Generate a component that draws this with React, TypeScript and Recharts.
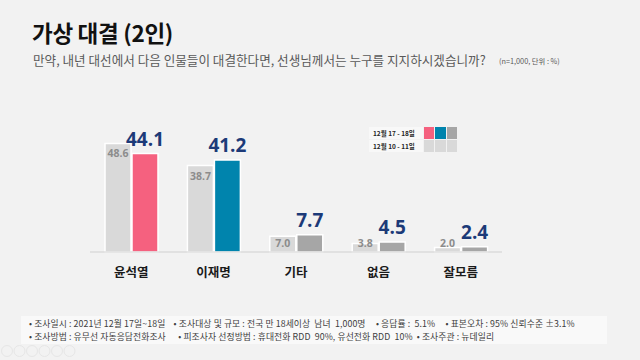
import React from 'react';
import { BarChart, Bar, XAxis, YAxis, Cell, LabelList } from 'recharts';

const categories = ['윤석열', '이재명', '기타', '없음', '잘모름'];
const prevValues = [48.6, 38.7, 7.0, 3.8, 2.0];
const currValues = [44.1, 41.2, 7.7, 4.5, 2.4];
const currColors = ['#f5617f', '#0084ad', '#a6a6a6', '#a6a6a6', '#a6a6a6'];
const prevColor = '#d9d9d9';
const legendLabels = ['12월 17 - 18일', '12월 10 - 11일'];
const footerLines = [
  '• 조사일시 : 2021년 12월 17일~18일    • 조사대상 및 규모 : 전국 만 18세이상  남녀  1,000명     • 응답률 :  5.1%     • 표본오차 : 95% 신뢰수준 ±3.1%',
  '• 조사방법 : 유무선 자동응답전화조사      • 피조사자 선정방법 : 휴대전화 RDD  90%, 유선전화 RDD  10%  • 조사주관 : 뉴데일리',
];

const data = categories.map((name, i) => ({ name, prev: prevValues[i], curr: currValues[i] }));

const FONT = '"Noto Sans CJK KR", "Noto Sans", sans-serif';

const CurrLabel = (props: any) => {
  const { x, y, width, value } = props;
  return (
    <text x={x + width / 2} y={y - 8} textAnchor="middle" fill="#1c3a78" fontSize={19} fontWeight={700} fontFamily='"Open Sans", "Noto Sans", sans-serif'>
      {Number(value).toFixed(1)}
    </text>
  );
};

const PrevLabel = (props: any) => {
  const { x, y, width, height, value } = props;
  const cy = Math.min(y + 10, y + height - 9);
  return (
    <text x={x + width / 2} y={cy} textAnchor="middle" dominantBaseline="central" fill="#8c8c8c" fontSize={10.5} fontWeight={700} fontFamily='"Open Sans", "Noto Sans", sans-serif'>
      {Number(value).toFixed(1)}
    </text>
  );
};

const Tick = (props: any) => {
  const { x, y, payload } = props;
  return (
    <text x={x} y={y + 11} textAnchor="middle" dominantBaseline="central" fill="#1a1a1a" fontSize={12.5} fontWeight={700} fontFamily={FONT}>
      {payload.value}
    </text>
  );
};

export default function App() {
  const legendSwatches = [currColors.slice(0, 2).concat(['#a6a6a6']), [prevColor, prevColor, prevColor]];
  return (
    <div style={{ position: 'fixed', left: 0, top: 0, width: 640, height: 360, background: '#f2f2f2', overflow: 'hidden', fontFamily: FONT }}>
      <div style={{ position: 'absolute', left: 32, top: 17, fontSize: 22.5, fontWeight: 700, color: '#111', lineHeight: '30px', letterSpacing: -0.3 }}>
        가상 대결 (2인)
      </div>
      <div style={{ position: 'absolute', left: 33, top: 52, fontSize: 12.6, color: '#595959', lineHeight: '16px', whiteSpace: 'nowrap' }}>
        만약, 내년 대선에서 다음 인물들이 대결한다면, 선생님께서는 누구를 지지하시겠습니까?
      </div>
      <div style={{ position: 'absolute', left: 499, top: 56, fontSize: 7.3, color: '#595959', lineHeight: '10px', whiteSpace: 'nowrap' }}>
        (n=1,000, 단위 : %)
      </div>

      <div style={{ position: 'absolute', left: 0, top: 0 }}>
        <BarChart width={640} height={360} data={data} margin={{ top: 118, right: 138, bottom: 78, left: 90 }} barSize={26} barGap={1}>
          <XAxis dataKey="name" height={30} axisLine={{ stroke: '#d0d0d0' }} tickLine={false} tick={<Tick />} interval={0} />
          <YAxis hide domain={[0, 60]} />
          <Bar dataKey="prev" fill={prevColor} stroke="#ffffff" strokeWidth={1.5} isAnimationActive={false}>
            <LabelList dataKey="prev" content={<PrevLabel />} />
          </Bar>
          <Bar dataKey="curr" stroke="#ffffff" strokeWidth={1.5} isAnimationActive={false}>
            {data.map((d, i) => (
              <Cell key={d.name} fill={currColors[i]} />
            ))}
            <LabelList dataKey="curr" content={<CurrLabel />} />
          </Bar>
        </BarChart>
      </div>

      <div style={{ position: 'absolute', left: 369, top: 127, width: 88 }}>
        {legendLabels.map((lab, r) => (
          <div key={lab} style={{ display: 'flex', height: 12, marginBottom: 1 }}>
            <div style={{ width: 54, background: '#f8f8f8', fontSize: 6.5, fontWeight: 700, color: '#262626', lineHeight: '12px', paddingLeft: 4, boxSizing: 'border-box', whiteSpace: 'nowrap' }}>
              {lab}
            </div>
            {legendSwatches[r].map((c, k) => (
              <div key={k} style={{ width: 10.5, height: 12, background: c, marginLeft: 1 }} />
            ))}
          </div>
        ))}
      </div>

      <div style={{ position: 'absolute', left: 21, top: 316, width: 586, height: 28, background: '#f9f9f9', boxSizing: 'border-box', paddingLeft: 8, paddingTop: 1 }}>
        {footerLines.map((l) => (
          <div key={l} style={{ fontSize: 8.8, letterSpacing: 0.1, color: '#404040', lineHeight: '13px', height: 13, whiteSpace: 'pre' }}>{l}</div>
        ))}
      </div>

      <svg style={{ position: 'absolute', left: 0, top: 342 }} width={80} height={18}>
        {[0, 1, 2, 3, 4, 5].map((k) => (
          <circle key={k} cx={7 + k * 12.5} cy={9} r={5.5} fill="none" stroke="#e6e6e6" strokeWidth={1} />
        ))}
      </svg>
    </div>
  );
}
